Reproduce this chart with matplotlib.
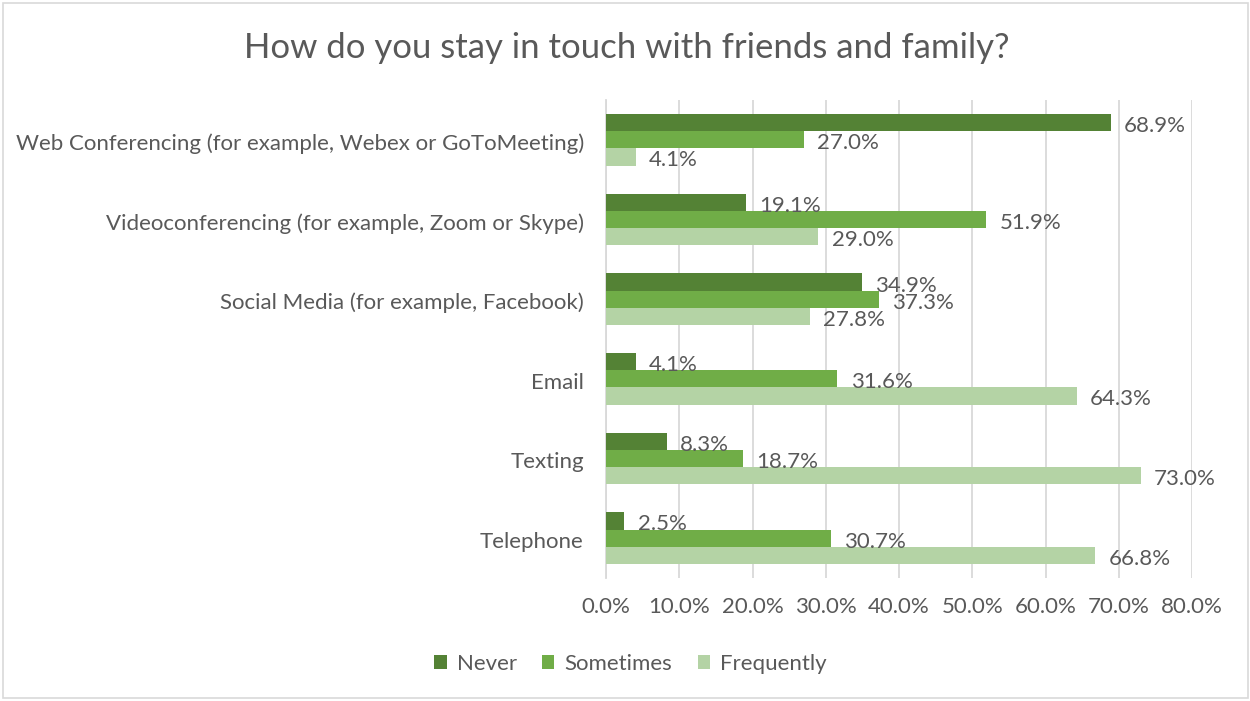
import matplotlib
matplotlib.use("Agg")
import matplotlib.pyplot as plt
from matplotlib.patches import Rectangle
import matplotlib.transforms as mtransforms
import numpy as np

categories = [
    "Web Conferencing (for example, Webex or GoToMeeting)",
    "Videoconferencing (for example, Zoom or Skype)",
    "Social Media (for example, Facebook)",
    "Email",
    "Texting",
    "Telephone",
]
never = [68.9, 19.1, 34.9, 4.1, 8.3, 2.5]
sometimes = [27.0, 51.9, 37.3, 31.6, 18.7, 30.7]
frequently = [4.1, 29.0, 27.8, 64.3, 73.0, 66.8]
series_names = ["Never", "Sometimes", "Frequently"]
x_ticks = [0, 10, 20, 30, 40, 50, 60, 70, 80]

colors = ["#548235", "#70AD47", "#B4D3A5"]
text_color = "#595959"
grid_color = "#D9D9D9"

plt.rcParams["font.family"] = ["Lato", "DejaVu Sans"]
fs = 16

fig = plt.figure(figsize=(12.5, 7.01), dpi=100)
ax = fig.add_axes([0.4848, 0.1755, 0.4688, 0.6818])

y = np.arange(len(categories))
h = 0.215
offsets = [-h, 0, h]
for vals, off, col, name in zip([never, sometimes, frequently], offsets, colors, series_names):
    bars = ax.barh(y + off, vals, height=h, color=col, label=name, zorder=3)
    for b, v in zip(bars, vals):
        ax.annotate(f"{v:.1f}%", xy=(b.get_width(), b.get_y() + b.get_height() / 2),
                    xytext=(9.5, -2.5), textcoords="offset points",
                    va="center", ha="left", fontsize=fs, color=text_color, zorder=4)

ax.set_xlim(0, 80)
ax.set_ylim(len(categories) - 0.5, -0.5)
ax.set_xticks(x_ticks)
ax.set_xticklabels([f"{t:.1f}%" for t in x_ticks])
ax.set_yticks(y)
ax.set_yticklabels(categories)
ax.tick_params(axis="x", length=0, pad=14, labelsize=fs, labelcolor=text_color)
ax.tick_params(axis="y", length=0, pad=16, labelsize=fs, labelcolor=text_color)
shift = mtransforms.ScaledTranslation(0, -2 / 100, fig.dpi_scale_trans)
for lbl in ax.get_yticklabels():
    lbl.set_transform(lbl.get_transform() + shift)
ax.xaxis.grid(True, color=grid_color, linewidth=1.3, zorder=0)
for s in ["top", "right", "bottom"]:
    ax.spines[s].set_visible(False)
ax.spines["left"].set_color(grid_color)
ax.spines["left"].set_linewidth(1.3)

fig.text(0.5016, 0.931, "How do you stay in touch with friends and family?",
         ha="center", va="center", fontsize=25, color=text_color)

leg = fig.legend(loc="center", bbox_to_anchor=(0.5044, 0.053), ncol=3, frameon=False,
                 fontsize=fs, handlelength=0.55, handleheight=0.55, handletextpad=0.45,
                 columnspacing=1.15, labelcolor=text_color)

fig.patches.append(Rectangle((0.002, 0.004), 0.996, 0.992, transform=fig.transFigure,
                             fill=False, edgecolor=grid_color, linewidth=1.2))

fig.savefig("out.png", dpi=100, facecolor="white")
